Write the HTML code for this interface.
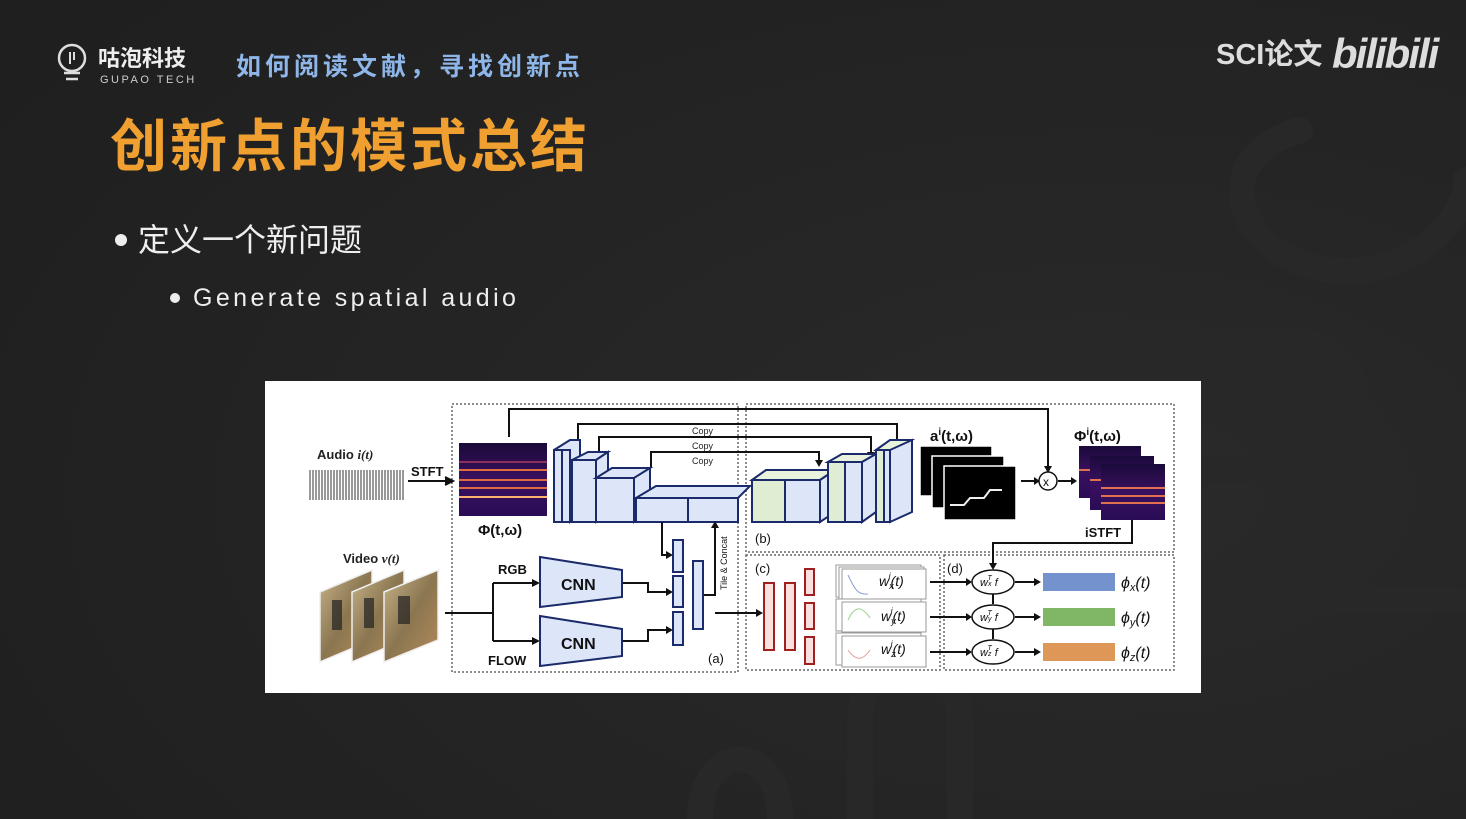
<!DOCTYPE html>
<html><head><meta charset="utf-8"><style>
html,body{margin:0;padding:0;width:1466px;height:819px;overflow:hidden;background:#222;}
svg{display:block}
text{font-family:"Liberation Sans","Noto Sans CJK SC",sans-serif}
</style></head><body>
<svg width="1466" height="819" viewBox="0 0 1466 819" xmlns="http://www.w3.org/2000/svg">
<defs>
<radialGradient id="bg" cx="0.75" cy="0.6" r="0.9"><stop offset="0" stop-color="#2a2a2a"/><stop offset="1" stop-color="#1f1f1f"/></radialGradient>
<linearGradient id="spec" x1="0" y1="0" x2="0" y2="1"><stop offset="0" stop-color="#1a0a3a"/><stop offset="0.5" stop-color="#3a1060"/><stop offset="1" stop-color="#2a0c55"/></linearGradient>
<linearGradient id="frm" x1="0" y1="0" x2="1" y2="1"><stop offset="0" stop-color="#c9b48a"/><stop offset="0.5" stop-color="#8a7650"/><stop offset="1" stop-color="#b48a5a"/></linearGradient>
<pattern id="wav" width="3" height="10" patternUnits="userSpaceOnUse"><rect width="2" height="10" fill="#999"/></pattern>
</defs>
<rect width="1466" height="819" fill="url(#bg)"/>
<g fill="none" stroke="#282828" stroke-width="26" stroke-linecap="round">
<path d="M1300 130 C1200 160 1240 260 1330 270 C1430 280 1470 200 1466 180"/>
<path d="M1040 340 L1290 340 C1380 340 1380 470 1290 470 L1080 470 C1000 470 1000 600 1080 600 L1466 600"/>
<path d="M860 819 L860 720 C860 650 960 650 960 720 L960 819"/>
<path d="M700 819 C700 740 780 740 780 819"/>
</g>
<!-- logo -->
<circle cx="72" cy="58" r="13" fill="none" stroke="#ddd" stroke-width="2.5"/>
<path d="M70 52 L70 64 M74 52 L74 60" stroke="#ddd" stroke-width="2"/>
<path d="M64 73 h16 M66 79 h12" stroke="#ddd" stroke-width="2.5"/>
<text x="98" y="66" font-size="22" fill="#eee" font-weight="bold">咕泡科技</text>
<text x="100" y="83" font-size="11" fill="#ccc" letter-spacing="2.5">GUPAO TECH</text>
<text x="236" y="75" font-size="25" fill="#8fb6e8" font-weight="bold" letter-spacing="4">如何阅读文献，寻找创新点</text>
<text x="1216" y="64" font-size="29" fill="#ddd" font-weight="bold">SCI论文</text>
<text x="1332" y="68" font-size="42" fill="#ddd" font-weight="bold" font-style="italic" letter-spacing="-2">bilibili</text>
<text x="110" y="166" font-size="57" fill="#f0a030" font-weight="bold" letter-spacing="3">创新点的模式总结</text>
<circle cx="121" cy="240" r="6" fill="#eee"/>
<text x="138" y="251" font-size="32" fill="#eee">定义一个新问题</text>
<circle cx="175" cy="298" r="5" fill="#eee"/>
<text x="193" y="306" font-size="25" fill="#eee" letter-spacing="3.4">Generate spatial audio</text>

<!-- diagram -->
<rect x="265" y="381" width="936" height="312" fill="#fff"/>
<g fill="none" stroke="#666" stroke-width="1.5" stroke-dasharray="2 2">
<rect x="452" y="404" width="286" height="268"/>
<rect x="746" y="404" width="428" height="148"/>
<rect x="746" y="555" width="194" height="115"/>
<rect x="944" y="555" width="230" height="115"/>
</g>
<text x="317" y="459" font-size="13" font-weight="bold" fill="#222">Audio <tspan font-style="italic" font-family="Liberation Serif">i(t)</tspan></text>
<rect x="308" y="470" width="97" height="30" fill="url(#wav)"/>
<text x="411" y="476" font-size="13" font-weight="bold" fill="#111">STFT</text>
<g stroke="#111" stroke-width="2" fill="none">
<path d="M408 481 H452"/><path d="M445 477 L453 481 L445 485" fill="#111"/>
</g>
<rect x="459" y="443" width="88" height="73" fill="url(#spec)"/>
<g stroke="#e06a40" stroke-width="2"><path d="M459 470 H547 M459 480 H547 M459 488 H547"/></g>
<path d="M459 497 H547" stroke="#ffb070" stroke-width="2"/>
<path d="M459 462 H547" stroke="#b03a60" stroke-width="1.5"/>
<text x="478" y="535" font-size="15" font-weight="bold" font-family="Liberation Serif" fill="#111">Φ(t,ω)</text>

<!-- copy lines -->
<g stroke="#111" stroke-width="2" fill="none">
<path d="M509 437 V409 H1048 V470"/>
<path d="M578 440 V424 H897 V446"/>
<path d="M599 452 V437 H871 V456"/>
<path d="M651 468 V452 H819 V464"/>
</g>
<g fill="#111"><path d="M1044 466 L1048 473 L1052 466Z"/><path d="M893 442 L897 449 L901 442Z"/><path d="M867 452 L871 459 L875 452Z"/><path d="M815 460 L819 467 L823 460Z"/></g>
<g font-size="9" fill="#222"><text x="692" y="434">Copy</text><text x="692" y="449">Copy</text><text x="692" y="464">Copy</text></g>

<!-- encoder/decoder blocks -->
<g stroke="#1a2a6a" stroke-width="2" fill="#dce6f8">
<path d="M554 450 L570 440 L580 440 L580 512 L570 522 Z"/>
<rect x="554" y="450" width="8" height="72"/><rect x="562" y="450" width="8" height="72"/>
<path d="M572 460 L588 452 L608 452 L596 460 Z"/><rect x="572" y="460" width="24" height="62"/><path d="M596 460 L608 452 L608 514 L596 522Z"/>
<path d="M596 478 L612 468 L650 468 L634 478Z"/><rect x="596" y="478" width="38" height="44"/><path d="M634 478 L650 468 L650 512 L634 522Z"/>
<path d="M636 498 L656 486 L750 486 L738 498Z"/><rect x="636" y="498" width="52" height="24"/><rect x="688" y="498" width="50" height="24"/>
</g>
<g stroke="#1a2a6a" stroke-width="2">
<path d="M752 480 L766 470 L835 470 L820 480Z" fill="#e8f2dc"/>
<rect x="752" y="480" width="33" height="42" fill="#dfeed2"/><rect x="785" y="480" width="35" height="42" fill="#dce6f8"/><path d="M820 480 L835 470 L835 512 L820 522Z" fill="#dce6f8"/>
<path d="M828 462 L842 454 L876 454 L862 462Z" fill="#e8f2dc"/>
<rect x="828" y="462" width="17" height="60" fill="#dfeed2"/><rect x="845" y="462" width="17" height="60" fill="#dce6f8"/><path d="M862 462 L876 454 L876 512 L862 522Z" fill="#dce6f8"/>
<path d="M876 450 L890 440 L912 440 L898 450Z" fill="#e8f2dc"/>
<rect x="876" y="450" width="8" height="72" fill="#dfeed2"/><rect x="884" y="450" width="6" height="72" fill="#dce6f8"/><path d="M890 450 L912 440 L912 512 L890 522Z" fill="#dce6f8"/>
</g>

<!-- masks -->
<g fill="#000" stroke="#fff" stroke-width="1.5">
<rect x="920" y="446" width="72" height="50"/><rect x="932" y="456" width="72" height="52"/><rect x="944" y="466" width="72" height="54"/>
</g>
<path d="M950 505 h14 l6 -7 h14 l6 -8 h12" stroke="#eee" stroke-width="2" fill="none"/>
<text x="930" y="441" font-size="15" font-weight="bold" font-family="Liberation Serif" fill="#111">a<tspan font-size="10" dy="-6">i</tspan><tspan dy="6">(t,ω)</tspan></text>
<g stroke="#111" stroke-width="2" fill="none"><path d="M1021 481 H1036"/><path d="M1058 481 H1073"/></g>
<path d="M1034 477 L1040 481 L1034 485Z M1071 477 L1077 481 L1071 485Z" fill="#111"/>
<circle cx="1048" cy="481" r="9" fill="#fff" stroke="#111" stroke-width="1.5"/>
<text x="1043" y="486" font-size="12" fill="#111">x</text>
<text x="1074" y="441" font-size="15" font-weight="bold" font-family="Liberation Serif" fill="#111">Φ<tspan font-size="10" dy="-6">i</tspan><tspan dy="6">(t,ω)</tspan></text>
<g>
<rect x="1079" y="446" width="62" height="52" fill="url(#spec)"/>
<rect x="1090" y="456" width="64" height="54" fill="url(#spec)"/>
<rect x="1101" y="464" width="64" height="56" fill="url(#spec)"/>
<path d="M1079 470 H1090 M1090 480 H1101 M1101 488 H1165 M1101 496 H1165 M1101 503 H1165" stroke="#e07050" stroke-width="2"/>
</g>
<text x="1085" y="537" font-size="13" font-weight="bold" fill="#111">iSTFT</text>
<path d="M1132 520 V543 H993 V566" stroke="#111" stroke-width="2" fill="none"/>
<path d="M989 563 L993 570 L997 563Z" fill="#111"/>

<!-- video -->
<text x="343" y="563" font-size="13" font-weight="bold" fill="#222">Video <tspan font-style="italic" font-family="Liberation Serif">v(t)</tspan></text>
<g stroke="#eee" stroke-width="1.5">
<path d="M320 592 L372 570 L372 640 L320 662Z" fill="url(#frm)"/>
<path d="M352 592 L404 570 L404 640 L352 662Z" fill="url(#frm)"/>
<path d="M384 592 L438 570 L438 640 L384 662Z" fill="url(#frm)"/>
</g>
<g fill="#222" opacity="0.7"><rect x="332" y="600" width="10" height="30"/><rect x="364" y="598" width="10" height="30"/><rect x="398" y="596" width="12" height="28"/></g>
<g stroke="#111" stroke-width="2" fill="none">
<path d="M445 613 H493 M493 583 V641 M493 583 H538 M493 641 H538"/>
<path d="M622 583 H648 V592 H670 M622 641 H648 V630 H670"/>
<path d="M662 522 V555 H670"/>
<path d="M703 595 H715 V524"/>
<path d="M715 613 H760"/>
<path d="M930 582 H970 M930 617 H970 M930 652 H970"/>
<path d="M1015 582 H1038 M1015 617 H1038 M1015 652 H1038"/>
<path d="M993 594 V604 M993 629 V639"/>
</g>
<g fill="#111"><path d="M532 579 L540 583 L532 587Z M532 637 L540 641 L532 645Z M666 588 L673 592 L666 596Z M666 626 L673 630 L666 634Z M666 551 L673 555 L666 559Z M711 528 L715 521 L719 528Z M756 609 L763 613 L756 617Z M966 578 L972 582 L966 586Z M966 613 L972 617 L966 621Z M966 648 L972 652 L966 656Z M1034 578 L1041 582 L1034 586Z M1034 613 L1041 617 L1034 621Z M1034 648 L1041 652 L1034 656Z"/></g>
<text x="498" y="574" font-size="13" font-weight="bold" fill="#111">RGB</text>
<text x="488" y="665" font-size="13" font-weight="bold" fill="#111">FLOW</text>
<g stroke="#1a2a6a" stroke-width="2" fill="#dce6f8">
<path d="M540 557 L622 570 L622 597 L540 607Z"/>
<path d="M540 616 L622 629 L622 656 L540 666Z"/>
<rect x="673" y="540" width="10" height="32"/><rect x="673" y="576" width="10" height="31"/><rect x="673" y="612" width="10" height="33"/>
<rect x="693" y="561" width="10" height="68"/>
</g>
<text x="561" y="590" font-size="16" font-weight="bold" fill="#111">CNN</text>
<text x="561" y="649" font-size="16" font-weight="bold" fill="#111">CNN</text>
<text transform="translate(727,590) rotate(-90)" font-size="9" fill="#111">Tile &amp; Concat</text>
<text x="708" y="663" font-size="13" fill="#111">(a)</text>
<text x="755" y="543" font-size="13" fill="#111">(b)</text>

<!-- (c) -->
<text x="755" y="573" font-size="13" fill="#111">(c)</text>
<g stroke="#a02020" stroke-width="2" fill="#fbe0e0">
<rect x="764" y="583" width="10" height="67"/><rect x="785" y="583" width="10" height="67"/>
<rect x="805" y="569" width="9" height="26"/><rect x="805" y="603" width="9" height="26"/><rect x="805" y="637" width="9" height="27"/>
</g>
<g stroke="#999" stroke-width="1" fill="#fff">
<rect x="836" y="565" width="85" height="32"/><rect x="839" y="567" width="85" height="32"/><rect x="842" y="569" width="84" height="30"/>
<rect x="836" y="599" width="85" height="32"/><rect x="842" y="602" width="84" height="30"/>
<rect x="836" y="633" width="85" height="32"/><rect x="842" y="636" width="84" height="31"/>
</g>
<path d="M848 575 C855 590 858 595 868 594" stroke="#8aa0d8" fill="none"/>
<path d="M848 620 C855 605 862 606 870 618" stroke="#9ad08a" fill="none"/>
<path d="M848 650 C855 660 862 662 870 650" stroke="#e0a0a0" fill="none"/>
<g font-family="Liberation Serif" font-style="italic" font-size="14" fill="#111">
<text x="879" y="586">w<tspan font-size="9" dy="3">x</tspan><tspan font-size="9" dy="-10" dx="-5">i</tspan><tspan dy="7" font-size="14">(t)</tspan></text>
<text x="881" y="621">w<tspan font-size="9" dy="3">y</tspan><tspan font-size="9" dy="-10" dx="-5">i</tspan><tspan dy="7" font-size="14">(t)</tspan></text>
<text x="881" y="654">w<tspan font-size="9" dy="3">z</tspan><tspan font-size="9" dy="-10" dx="-5">i</tspan><tspan dy="7" font-size="14">(t)</tspan></text>
</g>
<!-- (d) -->
<text x="947" y="573" font-size="13" fill="#111">(d)</text>
<g fill="#fff" stroke="#111" stroke-width="1.5">
<ellipse cx="993" cy="582" rx="21" ry="12"/><ellipse cx="993" cy="617" rx="21" ry="12"/><ellipse cx="993" cy="652" rx="21" ry="12"/>
</g>
<g font-family="Liberation Serif" font-style="italic" font-size="11" fill="#111">
<text x="980" y="586">w<tspan font-size="7">x</tspan><tspan font-size="7" dy="-6" dx="-4">T</tspan><tspan dy="6"> f</tspan></text>
<text x="980" y="621">w<tspan font-size="7">y</tspan><tspan font-size="7" dy="-6" dx="-4">T</tspan><tspan dy="6"> f</tspan></text>
<text x="980" y="656">w<tspan font-size="7">z</tspan><tspan font-size="7" dy="-6" dx="-4">T</tspan><tspan dy="6"> f</tspan></text>
</g>
<g>
<rect x="1043" y="573" width="72" height="18" fill="#5b7fc6" opacity="0.85"/>
<rect x="1043" y="608" width="72" height="18" fill="#6aaa4a" opacity="0.85"/>
<rect x="1043" y="643" width="72" height="18" fill="#d9853a" opacity="0.85"/>
</g>
<g font-family="Liberation Serif" font-style="italic" font-size="16" fill="#111">
<text x="1121" y="588">ϕ<tspan font-size="11" dy="3">x</tspan><tspan dy="-3">(t)</tspan></text>
<text x="1121" y="623">ϕ<tspan font-size="11" dy="3">y</tspan><tspan dy="-3">(t)</tspan></text>
<text x="1121" y="658">ϕ<tspan font-size="11" dy="3">z</tspan><tspan dy="-3">(t)</tspan></text>
</g>
</svg>
</body></html>
